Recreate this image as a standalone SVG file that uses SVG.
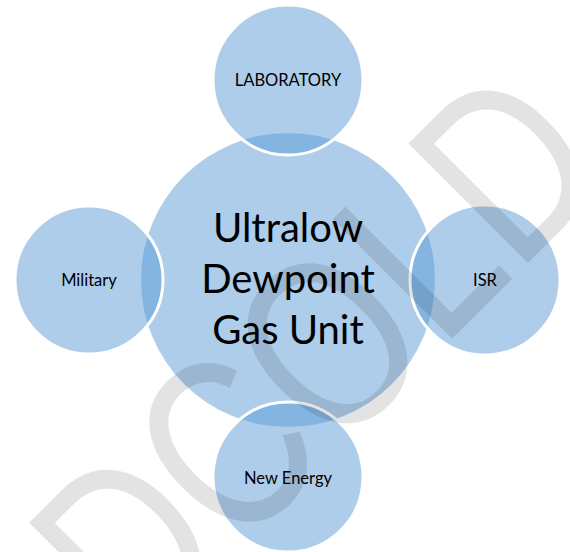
<svg xmlns="http://www.w3.org/2000/svg" width="570" height="552" viewBox="0 0 570 552">
  <style>
    .bubble { fill: #5B9BD5; fill-opacity: 0.5; }
    .sat { stroke: #ffffff; stroke-width: 3; }
    .lbl { font-family: Lato, "Liberation Sans", sans-serif; font-size: 16.5px; fill: #000000; text-anchor: middle; }
    .main { font-family: Lato, "Liberation Sans", sans-serif; font-size: 40px; fill: #000000; text-anchor: middle; }
    .wm { font-family: "Liberation Sans", Arial, sans-serif; font-size: 246px; fill: #000000; fill-opacity: 0.11; }
  </style>
  <rect x="0" y="0" width="570" height="552" fill="#ffffff"/>
  <g id="center-node">
    <circle class="bubble" cx="288" cy="280" r="147"/>
    <text class="main" x="288" y="242">Ultralow</text>
    <text class="main" x="288" y="293">Dewpoint</text>
    <text class="main" x="288" y="344">Gas Unit</text>
  </g>
  <g id="connectors"></g>
  <g id="node-laboratory">
    <circle class="bubble sat" cx="288" cy="80" r="75"/>
    <text class="lbl" x="288" y="86">LABORATORY</text>
  </g>
  <g id="node-military">
    <circle class="bubble sat" cx="89" cy="280" r="74"/>
    <text class="lbl" x="89" y="286">Military</text>
  </g>
  <g id="node-isr">
    <circle class="bubble sat" cx="485" cy="280" r="75"/>
    <text class="lbl" x="485" y="286">ISR</text>
  </g>
  <g id="node-new-energy">
    <circle class="bubble sat" cx="288" cy="477" r="75"/>
    <text class="lbl" x="288" y="484">New Energy</text>
  </g>
  <text class="wm" transform="translate(137.5,653.5) rotate(-45) scale(0.785,1)">DCOLD</text>
</svg>
